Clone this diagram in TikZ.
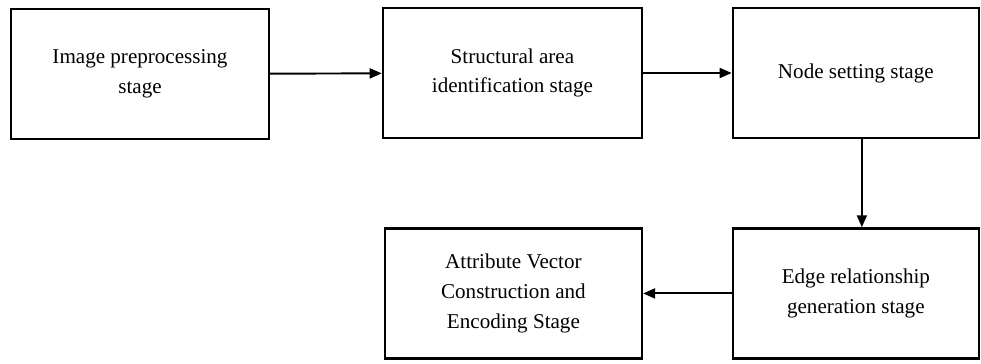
\documentclass[tikz,border=0pt]{standalone}
\usepackage{fontspec}
\setmainfont{Liberation Serif}
\usetikzlibrary{arrows.meta}

\begin{document}
\begin{tikzpicture}[x=0.02cm,y=-0.02cm,
    stagebox/.style={draw,line width=1.4pt,align=center,
      font=\fontsize{12}{17}\selectfont,minimum height=2.6cm},
    >={Triangle[length=0.24cm,width=0.2cm]},line width=1.1pt]
      \useasboundingbox (0,0) rectangle (981,363);

      \node[stagebox,minimum width=5.16cm] (1) at (140,74) {Image preprocessing\\stage};
      \node[stagebox,minimum width=5.18cm,right of=1,xshift=6.45cm,yshift=0.02cm] (2) {Structural area\\identification stage};
      \node[stagebox,minimum width=4.92cm,right of=2,xshift=5.87cm] (3) {Node setting stage};
      \node[stagebox,minimum width=4.92cm,below of=3,yshift=-3.41cm] (5) {Edge relationship\\generation stage};
      \node[stagebox,minimum width=5.14cm,left of=5,xshift=-5.85cm] (4) {Attribute Vector\\Construction and\\Encoding Stage};

      \draw[->] (1) -- (2);
      \draw[->] (2) -- (3);
      \draw[->] ([xshift=0.12cm]3.south) -- ([xshift=0.12cm]3.south |- 5.north);
      \draw[->] (5) -- (4);
    \end{tikzpicture}
\end{document}
